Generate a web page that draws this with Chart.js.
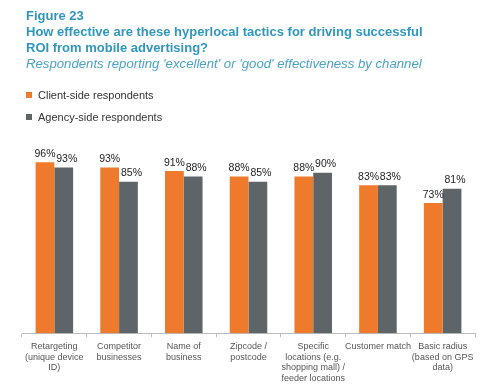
<!DOCTYPE html>
<html>
<head>
<meta charset="utf-8">
<script src="https://cdn.jsdelivr.net/npm/chart.js@4"></script>
<style>
  body { margin: 0; background: #fff; }
  #wrap { position: relative; width: 500px; height: 390px; }
  #chart { position: absolute; left: 0; top: 0; }
  #head { position: absolute; left: 26px; top: 8px; font-family: "Liberation Sans", Arial, sans-serif; }
  #head .t { color: #2f97bf; font-weight: bold; font-size: 13px; line-height: 16px; }
  #head .s { color: #4aa3c6; font-style: italic; font-size: 13.2px; line-height: 15px; }
  #legend { position: absolute; left: 26px; top: 87px; font-family: "Liberation Sans", Arial, sans-serif; font-size: 11px; color: #333; }
  #legend div { height: 22px; line-height: 16px; }
  #legend span { display: inline-block; width: 6px; height: 6px; margin-right: 6px; vertical-align: 1px; }
</style>
</head>
<body>
<div id="wrap">
  <canvas id="chart" width="500" height="390"></canvas>
  <div id="head">
    <div class="t">Figure 23</div>
    <div class="t">How effective are these hyperlocal tactics for driving successful<br>ROI from mobile advertising?</div>
    <div class="s">Respondents reporting 'excellent' or 'good' effectiveness by channel</div>
  </div>
  <div id="legend"></div>
</div>
<script>
// categories (line breaks as printed)
var categories = [
    ['Retargeting', '(unique device', 'ID)'],
    ['Competitor', 'businesses'],
    ['Name of', 'business'],
    ['Zipcode /', 'postcode'],
    ['Specific', 'locations (e.g.', 'shopping mall) /', 'feeder locations'],
    ['Customer match'],
    ['Basic radius', '(based on GPS', 'data)']
];
var seriesNames = ['Client-side respondents', 'Agency-side respondents'];
var clientSide = [96, 93, 91, 88, 88, 83, 73];
var agencySide = [93, 85, 88, 85, 90, 83, 81];
var colors = ['#ef7a2c', '#5e6568'];

//legend in html, stacked like the figure
var legendHtml = '';
for (var i = 0; i < seriesNames.length; i++) {
    legendHtml += '<div><span style="background:' + colors[i] + '"></span>' + seriesNames[i] + '</div>';
}
document.getElementById('legend').innerHTML = legendHtml;

//draw the value labels above each bar
var valueLabels = {
    id: 'valueLabels',
    afterDatasetsDraw: function (chart) {
        var ctx = chart.ctx;
        ctx.save();
        ctx.font = '10.5px "Liberation Sans", Arial, sans-serif';
        ctx.fillStyle = '#222';
        ctx.textAlign = 'center';
        ctx.textBaseline = 'bottom';
        chart.data.datasets.forEach(function (ds, d) {
            chart.getDatasetMeta(d).data.forEach(function (bar, j) {
                ctx.fillText(ds.data[j] + '%', bar.x + (d === 0 ? 0 : 3), bar.y - 3);
            });
        });
        ctx.restore();
    }
};

var ctx = document.getElementById('chart').getContext('2d');
var myChart = new Chart(ctx, {
    type: 'bar',
    data: {
        labels: categories,
        datasets: [{
            label: seriesNames[0],
            data: clientSide,
            backgroundColor: colors[0]
        }, {
            label: seriesNames[1],
            data: agencySide,
            backgroundColor: colors[1]
        }]
    },
    options: {
        responsive: false,
        animation: false,
        categoryPercentage: 0.58,
        barPercentage: 1,
        layout: { padding: { left: 22, right: 25, top: 155, bottom: 2 } },
        plugins: {
            legend: { display: false },
            tooltip: { enabled: false }
        },
        scales: {
            y: { display: false, min: 0, max: 100 },
            x: {
                grid: { drawOnChartArea: false, tickLength: 4, color: '#bbb' },
                border: { color: '#bbb' },
                ticks: {
                    autoSkip: false,
                    maxRotation: 0,
                    padding: 4,
                    color: '#555',
                    font: { family: '"Liberation Sans", Arial, sans-serif', size: 9, lineHeight: 1.19 }
                }
            }
        }
    },
    plugins: [valueLabels]
});
</script>
</body>
</html>
